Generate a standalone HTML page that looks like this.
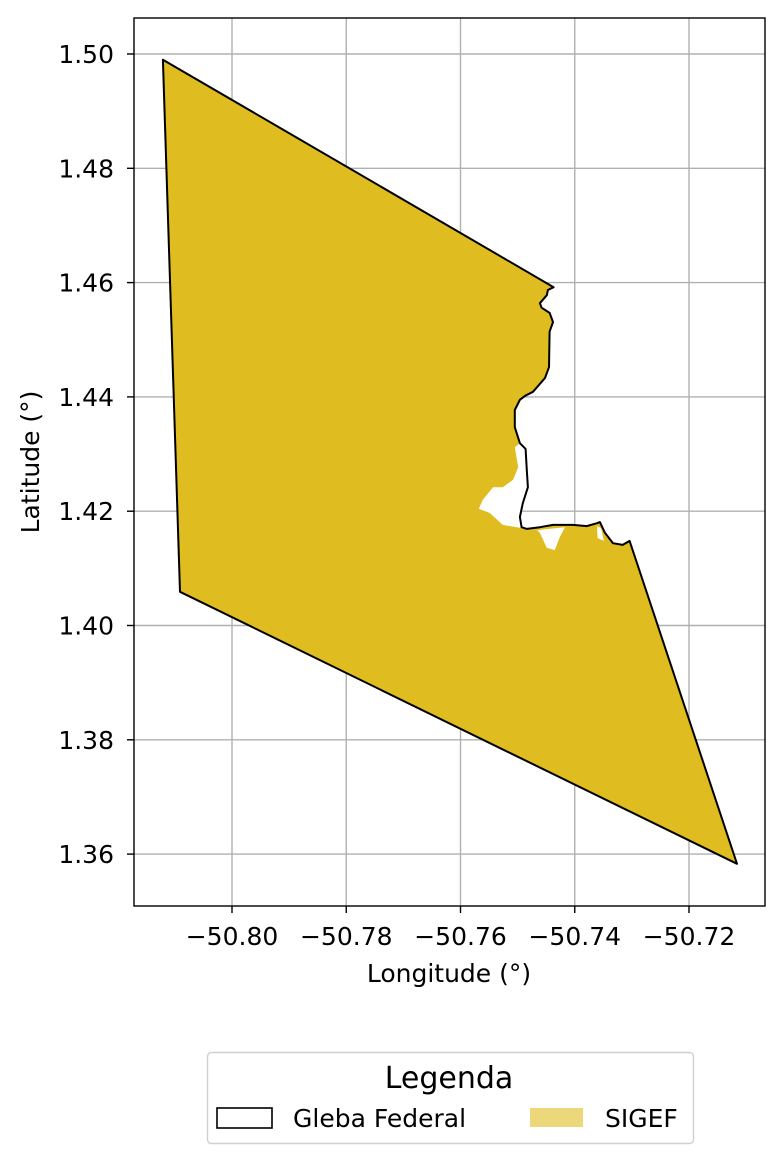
<!DOCTYPE html>
<html><head><meta charset="utf-8"><style>
body{margin:0;background:#fff}
svg{display:block;font-family:"DejaVu Sans","Liberation Sans",sans-serif}
</style></head><body>
<svg id="chart" width="784" height="1163" viewBox="0 0 784 1163">
<g id="grid"></g>
<g id="marks"></g>
<rect x="134" y="18" width="631" height="888" fill="none" stroke="#000" stroke-width="1.4"/>
<g id="ticks"></g>
<text x="449" y="982" font-size="25" text-anchor="middle">Longitude (°)</text>
<text transform="translate(39,462) rotate(-90)" font-size="25" text-anchor="middle">Latitude (°)</text>
<g>
<rect x="207.5" y="1052.5" width="486" height="91" rx="4" fill="#fff" stroke="#d0d0d0" stroke-width="1.4"/>
<text x="449" y="1088" font-size="30" text-anchor="middle">Legenda</text>
<rect x="217" y="1108" width="55" height="20" fill="none" stroke="#000" stroke-width="1.6"/>
<text x="293" y="1127" font-size="25">Gleba Federal</text>
<rect x="530" y="1108" width="53" height="19" fill="#ecd77a"/>
<text x="605" y="1127" font-size="25">SIGEF</text>
</g>
</svg>
<script>
const xTicks=[-50.80,-50.78,-50.76,-50.74,-50.72];
const yTicks=[1.36,1.38,1.40,1.42,1.44,1.46,1.48,1.50];
const boundaryLon=[-50.8121,-50.7437,-50.7447,-50.7449,-50.7461,-50.7458,-50.7444,-50.7438,-50.7444,-50.7445,-50.7452,-50.7473,-50.7487,-50.7496,-50.7505,-50.7505,-50.7496,-50.7486,-50.7484,-50.7482,-50.7491,-50.7496,-50.7493,-50.7484,-50.7461,-50.7438,-50.7403,-50.7379,-50.7361,-50.7356,-50.7347,-50.7333,-50.7316,-50.7304,-50.7116,-50.8091];
const boundaryLat=[1.4990,1.4592,1.4587,1.4578,1.4564,1.4556,1.4547,1.4531,1.4514,1.4452,1.4433,1.4409,1.4402,1.4395,1.4377,1.4347,1.4319,1.4309,1.4272,1.4242,1.4214,1.4190,1.4172,1.4169,1.4172,1.4176,1.4176,1.4174,1.4179,1.4181,1.4162,1.4144,1.4141,1.4148,1.3583,1.4059];
const gap1Lon=[-50.7505,-50.7496,-50.7486,-50.7484,-50.7482,-50.7491,-50.7496,-50.7493,-50.7496,-50.7526,-50.7549,-50.7568,-50.7561,-50.7543,-50.7526,-50.7508,-50.7499];
const gap1Lat=[1.4312,1.4319,1.4309,1.4272,1.4242,1.4214,1.4190,1.4172,1.4171,1.4176,1.4197,1.4204,1.4220,1.4242,1.4242,1.4255,1.4277];
const gap2Lon=[-50.7466,-50.7461,-50.7449,-50.7435,-50.7426,-50.7417];
const gap2Lat=[1.4167,1.4162,1.4136,1.4132,1.4155,1.4172];
const gap3Lon=[-50.7361,-50.7360,-50.7349,-50.7354];
const gap3Lat=[1.4174,1.4153,1.4148,1.4170];

const NS='http://www.w3.org/2000/svg';
const X=v=>232+(v+50.80)/0.02*114.25;
const Y=v=>54+(1.50-v)/0.02*114.3;
function mk(t,a,p){const e=document.createElementNS(NS,t);for(const k in a)e.setAttribute(k,a[k]);p.appendChild(e);return e;}
function pts(lo,la){return lo.map((v,i)=>X(v).toFixed(1)+','+Y(la[i]).toFixed(1)).join(' ');}
const grid=document.getElementById('grid'),ticks=document.getElementById('ticks'),marks=document.getElementById('marks');
xTicks.forEach(v=>{
 const l=mk('line',{x1:X(v),x2:X(v),y1:18,y2:906,stroke:'#b0b0b0','stroke-width':1.4},grid);
 
 
 const t=mk('line',{x1:X(v),x2:X(v),y1:906,y2:913,stroke:'#000','stroke-width':1.4},ticks);
 
 
 const tx=mk('text',{x:X(v),y:945,'font-size':25,'text-anchor':'middle'},ticks);
 tx.textContent='\u2212'+Math.abs(v).toFixed(2);
 
 
});
yTicks.forEach(v=>{
 const l=mk('line',{x1:134,x2:765,y1:Y(v),y2:Y(v),stroke:'#b0b0b0','stroke-width':1.4},grid);
 
 
 const t=mk('line',{x1:127,x2:134,y1:Y(v),y2:Y(v),stroke:'#000','stroke-width':1.4},ticks);
 
 
 const tx=mk('text',{x:114,y:Y(v)+9,'font-size':25,'text-anchor':'end'},ticks);
 tx.textContent=v.toFixed(2);
 
 
});
const fill=mk('polygon',{points:pts(boundaryLon,boundaryLat),fill:'#dfbc20'},marks);


[[gap1Lon,gap1Lat],[gap2Lon,gap2Lat],[gap3Lon,gap3Lat]].forEach(g=>{
 const p=mk('polygon',{points:pts(g[0],g[1]),fill:'#fff'},marks);
 
 
});
const b=mk('polygon',{points:pts(boundaryLon,boundaryLat),fill:'none',stroke:'#000','stroke-width':2,'stroke-linejoin':'round'},marks);


</script>
</body></html>
